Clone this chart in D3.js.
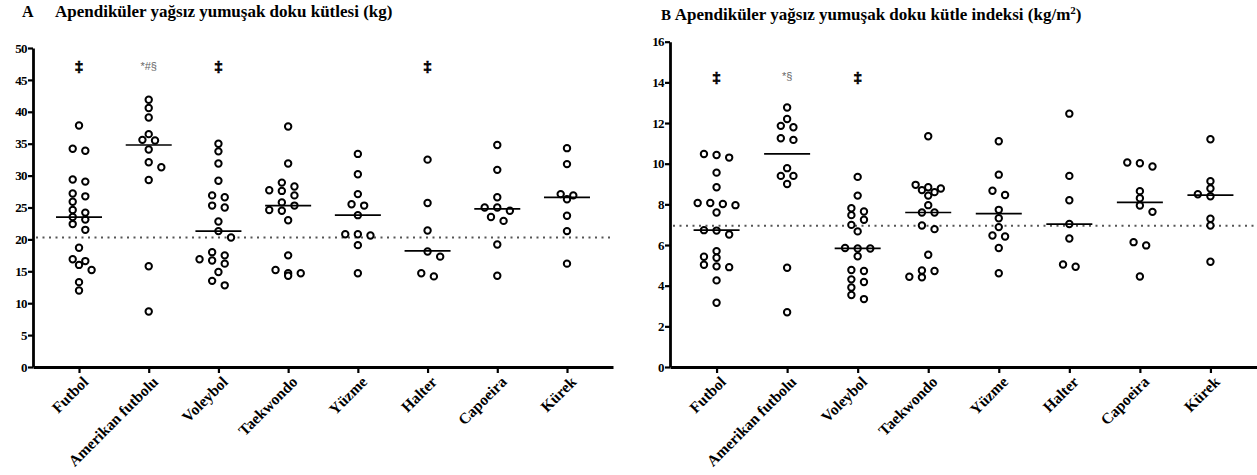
<!DOCTYPE html>
<html>
<head>
<meta charset="utf-8">
<script src="https://cdn.jsdelivr.net/npm/d3@7"></script>
<style>
  body { margin: 0; background: #fff; }
  svg { display: block; }
  text { font-family: "Liberation Serif", "Times New Roman", serif; }
</style>
</head>
<body>
<svg id="chart" width="1257" height="475"></svg>
<script>
var sports = ["Futbol", "Amerikan futbolu", "Voleybol", "Taekwondo", "Yüzme", "Halter", "Capoeira", "Kürek"];

// A - appendicular lean soft tissue mass (kg)
var futbolA = [37.85, 34.2, 33.9, 29.4, 29.06, 27.2, 26.75, 25.9, 24.6, 24.2, 23.5, 23.1, 22.4, 21.5, 18.7, 16.9, 16.6, 16.0, 15.2, 13.3, 12.0];
var amerikanA = [41.9, 40.6, 39.1, 36.5, 35.6, 35.5, 34.1, 32.1, 31.3, 29.3, 15.8, 8.7];
var voleybolA = [35.0, 33.8, 31.9, 29.2, 26.9, 26.6, 25.3, 25.0, 22.8, 21.3, 20.3, 18.0, 17.5, 16.9, 16.7, 16.2, 14.9, 13.5, 12.8];
var taekwondoA = [37.7, 31.9, 28.9, 28.3, 27.7, 27.6, 26.9, 25.8, 25.3, 24.6, 24.5, 23.0, 17.5, 15.2, 14.7, 14.7, 14.3];
var yuzmeA = [33.4, 30.2, 27.1, 25.5, 25.3, 23.8, 20.8, 20.8, 20.6, 19.1, 14.7];
var halterA = [32.5, 25.7, 21.4, 18.1, 17.3, 14.7, 14.2];
var capoeiraA = [34.8, 30.9, 26.6, 25.0, 25.0, 24.5, 23.5, 22.9, 19.2, 14.3];
var kurekA = [34.3, 31.8, 27.1, 26.9, 26.3, 23.7, 21.3, 16.2];
var mediansA = [23.5, 34.8, 21.3, 25.3, 23.8, 18.2, 24.8, 26.6];
var refA = 20.3;
var marksA = ["‡", "*#§", "‡", "", "", "‡", "", ""];
var ticksA = [0, 5, 10, 15, 20, 25, 30, 35, 40, 45, 50];

// B - appendicular lean soft tissue mass index (kg/m2)
var futbolB = [10.48, 10.43, 10.3, 9.56, 8.84, 8.07, 8.07, 8.02, 7.96, 7.6, 6.73, 6.71, 6.52, 5.7, 5.42, 5.37, 5.03, 4.95, 4.91, 4.26, 3.16];
var amerikanB = [12.76, 12.2, 11.86, 11.79, 11.25, 11.17, 9.78, 9.4, 9.4, 9.0, 4.88, 2.69];
var voleybolB = [9.35, 8.43, 7.81, 7.65, 7.47, 7.24, 6.99, 6.67, 5.85, 5.83, 5.83, 5.45, 4.77, 4.72, 4.31, 4.18, 3.91, 3.54, 3.34];
var taekwondoB = [11.35, 8.96, 8.84, 8.78, 8.7, 8.6, 8.43, 7.96, 7.6, 7.6, 6.96, 6.78, 5.52, 4.75, 4.72, 4.44, 4.41];
var yuzmeB = [11.1, 9.46, 8.67, 8.46, 7.73, 7.32, 6.88, 6.47, 6.42, 5.85, 4.61];
var halterB = [12.46, 9.4, 8.2, 7.03, 6.32, 5.04, 4.93];
var capoeiraB = [10.06, 10.02, 9.86, 8.65, 8.3, 7.94, 7.63, 6.14, 5.98, 4.45];
var kurekB = [11.2, 9.14, 8.78, 8.5, 8.4, 7.29, 6.96, 5.18];
var mediansB = [6.73, 10.48, 5.83, 7.6, 7.54, 7.03, 8.1, 8.45];
var refB = 6.95;
var marksB = ["‡", "*§", "‡", "", "", "", "", ""];
var ticksB = [0, 2, 4, 6, 8, 10, 12, 14, 16];

var svg = d3.select("#chart");

// Prism-like scatter: rows of nearby values are centred on the category,
// a row is nudged sideways by half a step when it would sit on top of the row above
function spread(vals, cx, y, step, rowH) {
    var sorted = vals.slice().sort(d3.descending);
    var rows = [], cur = null;
    sorted.forEach(function (v) {
        var py = y(v);
        if (cur && py - cur.top < rowH) cur.pts.push(py);
        else { cur = {top: py, pts: [py]}; rows.push(cur); }
    });
    var out = [];
    var shifts = [0, step / 2, -step / 2, step, -step];
    rows.forEach(function (row) {
        var n = row.pts.length, best = null;
        for (var s = 0; s < shifts.length && !best; s++) {
            var cand = row.pts.map(function (py, i) {
                return {x: cx + shifts[s] + (i - (n - 1) / 2) * step, y: py};
            });
            var clash = cand.some(function (c) {
                return out.some(function (p) {
                    return Math.abs(p.x - c.x) < step * 0.75 && Math.abs(p.y - c.y) < 6.5;
                });
            });
            if (!clash) best = cand;
        }
        if (!best) best = row.pts.map(function (py, i) {
            return {x: cx + (i - (n - 1) / 2) * step, y: py};
        });
        out = out.concat(best);
    });
    return out;
}

function drawPanel(opt) {
    var g = svg.append("g");

    var x = d3.scalePoint()
        .domain(sports)
        .range([opt.left, opt.right])
        .padding(0.66);

    var y = d3.scaleLinear()
        .domain([0, opt.max])
        .range([opt.bottom, opt.top]);

    // dotted reference line
    g.append("line")
        .attr("x1", opt.left + 3)
        .attr("x2", opt.right)
        .attr("y1", y(opt.ref))
        .attr("y2", y(opt.ref))
        .attr("stroke", "#555")
        .attr("stroke-width", 2)
        .attr("stroke-dasharray", "2,4.5");

    var yAxis = g.append("g")
        .attr("transform", "translate(" + opt.left + ",0)")
        .call(d3.axisLeft(y).tickValues(opt.ticks).tickSize(5).tickSizeOuter(0).tickFormat(d3.format("d")));

    var xAxis = g.append("g")
        .attr("transform", "translate(0," + opt.bottom + ")")
        .call(d3.axisBottom(x).tickSize(6).tickSizeOuter(0));

    [yAxis, xAxis].forEach(function (a) {
        a.select(".domain").attr("stroke-width", 2.8);
        a.selectAll(".tick line").attr("stroke-width", 2.2);
    });

    yAxis.selectAll("text")
        .attr("x", -6)
        .style("font-size", "13px")
        .style("font-weight", "bold")
        .style("letter-spacing", "-0.6px");

    xAxis.selectAll("text")
        .attr("x", 0)
        .attr("y", 0)
        .attr("dy", "0.35em")
        .attr("text-anchor", "end")
        .attr("transform", "translate(6,12) rotate(-45)")
        .style("font-size", "15.5px")
        .style("font-weight", "bold");

    opt.groups.forEach(function (vals, i) {
        g.append("g").selectAll("circle")
            .data(spread(vals, x(sports[i]), y, 12.6, 5))
            .enter()
            .append("circle")
            .attr("cx", function (d) { return d.x; })
            .attr("cy", function (d) { return d.y; })
            .attr("r", 3.2)
            .attr("fill", "#fff")
            .attr("stroke", "#000")
            .attr("stroke-width", 2);
    });

    // median lines
    g.append("g").selectAll("line")
        .data(opt.medians)
        .enter()
        .append("line")
        .attr("x1", function (d, i) { return x(sports[i]) - 23; })
        .attr("x2", function (d, i) { return x(sports[i]) + 23; })
        .attr("y1", function (d) { return y(d); })
        .attr("y2", function (d) { return y(d); })
        .attr("stroke", "#000")
        .attr("stroke-width", 1.7);

    // significance marks
    g.append("g").selectAll("text")
        .data(opt.marks)
        .enter()
        .append("text")
        .attr("x", function (d, i) { return x(sports[i]); })
        .attr("y", y(opt.markAt))
        .attr("text-anchor", "middle")
        .attr("dy", "0.35em")
        .style("font-family", function (d) { return d === "‡" ? null : "'Liberation Sans', Arial, sans-serif"; })
        .style("font-size", function (d) { return d === "‡" ? "15px" : "11px"; })
        .style("font-weight", function (d) { return d === "‡" ? "bold" : "normal"; })
        .attr("fill", function (d) { return d === "‡" ? "#000" : "#666"; })
        .attr("stroke", function (d) { return d === "‡" ? "#000" : "none"; })
        .attr("stroke-width", 0.6)
        .text(function (d) { return d; });
}

drawPanel({
    left: 33, right: 613, top: 48, bottom: 367, max: 50,
    ticks: ticksA, ref: refA, medians: mediansA, marks: marksA, markAt: 47.2,
    groups: [futbolA, amerikanA, voleybolA, taekwondoA, yuzmeA, halterA, capoeiraA, kurekA]
});

drawPanel({
    left: 670, right: 1257, top: 41.7, bottom: 367, max: 16,
    ticks: ticksB, ref: refB, medians: mediansB, marks: marksB, markAt: 14.3,
    groups: [futbolB, amerikanB, voleybolB, taekwondoB, yuzmeB, halterB, capoeiraB, kurekB]
});

// titles
svg.append("text")
    .attr("x", 22).attr("y", 17)
    .style("font-size", "16px").style("font-weight", "bold")
    .text("A");
svg.append("text")
    .attr("x", 55).attr("y", 17)
    .style("font-size", "17px").style("font-weight", "bold")
    .text("Apendiküler yağsız yumuşak doku kütlesi (kg)");

var tb = svg.append("text")
    .attr("x", 661).attr("y", 20)
    .style("font-size", "17px").style("font-weight", "bold");
tb.append("tspan").style("font-size", "15px").text("B ");
tb.append("tspan").text("Apendiküler yağsız yumuşak doku kütle indeksi (kg/m");
tb.append("tspan").attr("dy", -6).style("font-size", "11px").text("2");
tb.append("tspan").attr("dy", 6).text(")");
</script>
</body>
</html>
